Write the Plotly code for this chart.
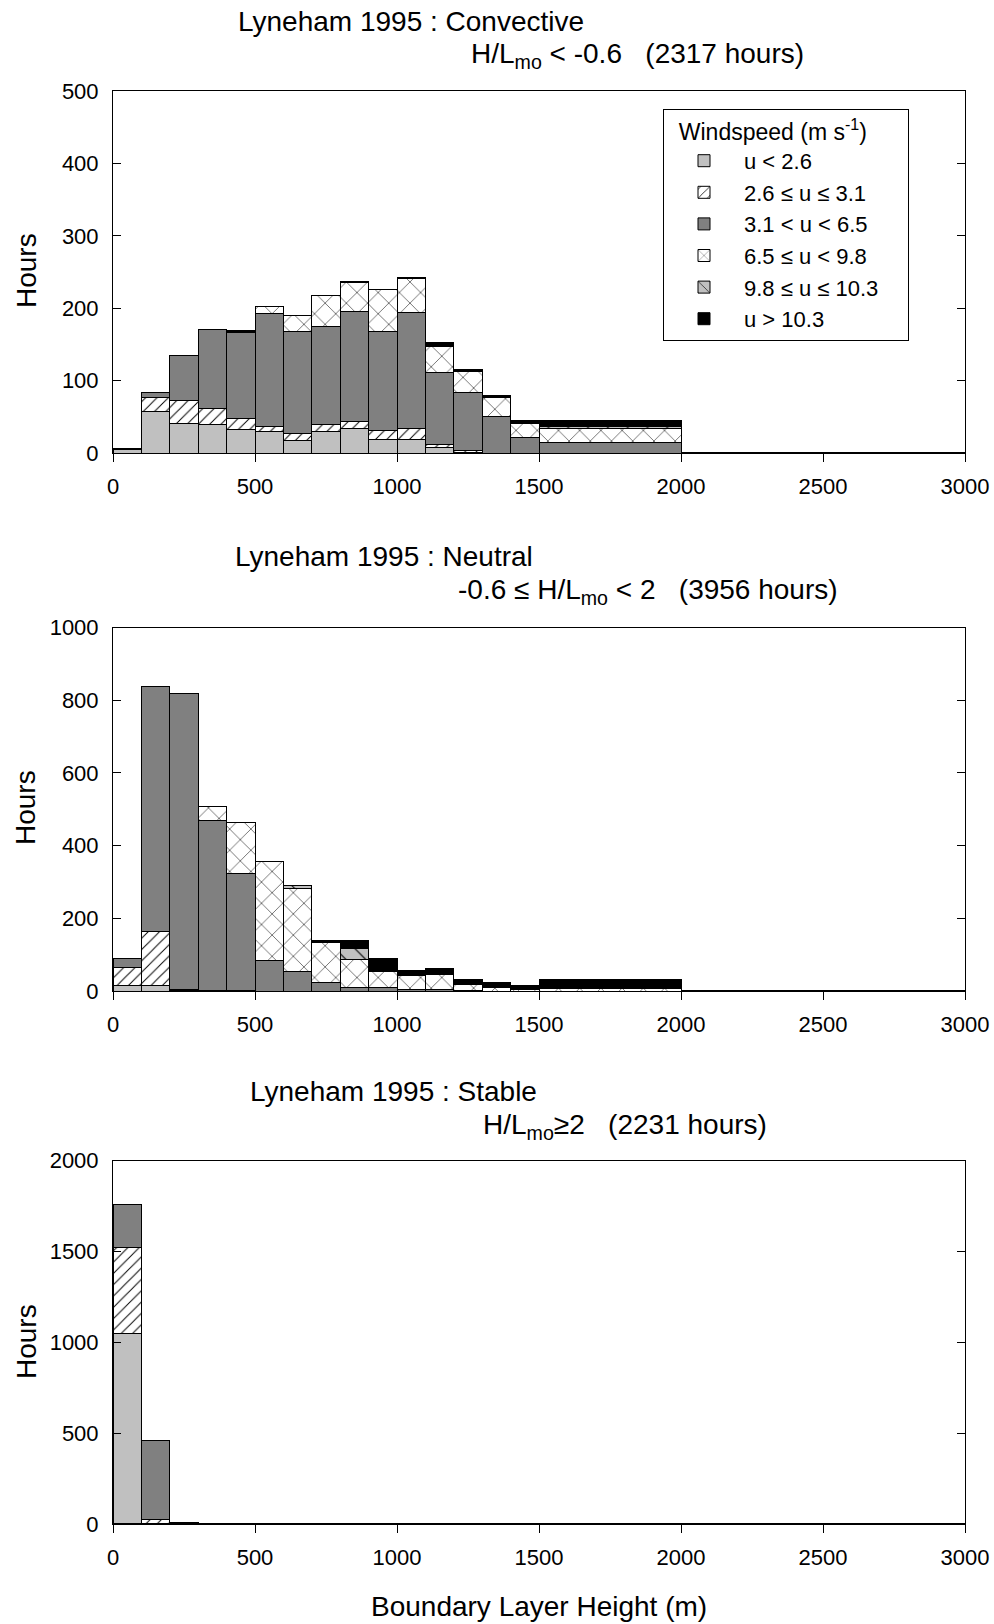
import plotly.graph_objects as go

# ---------------- data ----------------
bin_edges = [0, 100, 200, 300, 400, 500, 600, 700, 800, 900, 1000, 1100, 1200,
             1300, 1400, 1500, 2000, 3000]

class_names = ["u &lt; 2.6", "2.6 ≤ u ≤ 3.1", "3.1 &lt; u &lt; 6.5",
               "6.5 ≤ u &lt; 9.8", "9.8 ≤ u ≤ 10.3", "u &gt; 10.3"]

# Convective  (H/Lmo < -0.6)
conv_u1 = [5, 57, 41, 39, 32, 30, 17, 30, 34, 18, 19, 8, 1, 0, 0, 0, 0]
conv_u2 = [0, 20, 31, 23, 16, 7, 10, 10, 10, 13, 15, 4, 2, 0, 0, 0, 0]
conv_u3 = [1, 6, 62, 108, 119, 156, 141, 135, 152, 137, 160, 99, 80, 51, 21, 15, 1]
conv_u4 = [0, 0, 0, 0, 1, 9, 22, 43, 39, 58, 47, 36, 29, 25, 20, 19, 0]
conv_u5 = [0, 0, 0, 0, 0, 0, 0, 0, 0, 0, 0, 1, 0, 0, 1, 2, 0]
conv_u6 = [0, 0, 0, 0, 1, 0, 0, 0, 2, 0, 2, 5, 3, 3, 3, 9, 0]

# Neutral  (-0.6 <= H/Lmo < 2)
neut_u1 = [15, 15, 1, 1, 0, 0, 0, 0, 0, 0, 0, 0, 0, 0, 0, 0, 0]
neut_u2 = [50, 150, 3, 1, 1, 0, 0, 0, 0, 0, 0, 0, 0, 0, 0, 0, 0]
neut_u3 = [24, 672, 814, 466, 322, 85, 54, 23, 9, 9, 5, 5, 1, 0, 0, 0, 1]
neut_u4 = [0, 0, 0, 40, 141, 270, 228, 110, 78, 46, 38, 41, 17, 11, 3, 7, 1]
neut_u5 = [0, 0, 0, 0, 0, 0, 7, 3, 29, 1, 2, 2, 2, 1, 1, 2, 0]
neut_u6 = [0, 0, 0, 0, 0, 0, 0, 2, 23, 33, 12, 15, 11, 12, 11, 24, 0]

# Stable  (H/Lmo >= 2)
stab_u1 = [1051, 1, 0, 0, 0, 0, 0, 0, 0, 0, 0, 0, 0, 0, 0, 0, 0]
stab_u2 = [469, 22, 0, 0, 0, 0, 0, 0, 0, 0, 0, 0, 0, 0, 0, 0, 0]
stab_u3 = [241, 437, 6, 0, 0, 0, 0, 0, 0, 0, 0, 0, 0, 0, 0, 0, 0]
stab_u4 = [0] * 17
stab_u5 = [0] * 17
stab_u6 = [0] * 17

x_ticks = [0, 500, 1000, 1500, 2000, 2500, 3000]
y_ticks_conv = [0, 100, 200, 300, 400, 500]
y_ticks_neut = [0, 200, 400, 600, 800, 1000]
y_ticks_stab = [0, 500, 1000, 1500, 2000]

# ---------------- styling ----------------
FONT = "Liberation Sans, Arial, sans-serif"
W, H = 994, 1624
LIGHT = "#c0c0c0"
DARK = "#808080"

styles = [
    dict(color=LIGHT),
    dict(color="white", pattern=dict(shape="/", fgcolor="black", bgcolor="white",
                                     size=8, solidity=0.12, fillmode="replace")),
    dict(color=DARK),
    dict(color="white", pattern=dict(shape="x", fgcolor="black", bgcolor="white",
                                     size=15, solidity=0.07, fillmode="replace")),
    dict(color=LIGHT, pattern=dict(shape="\\", fgcolor="black", bgcolor=LIGHT,
                                   size=14, solidity=0.08, fillmode="replace")),
    dict(color="black"),
]

centers = [(a + b) / 2 for a, b in zip(bin_edges[:-1], bin_edges[1:])]
widths = [b - a for a, b in zip(bin_edges[:-1], bin_edges[1:])]

panels = [
    ([conv_u1, conv_u2, conv_u3, conv_u4, conv_u5, conv_u6], "x", "y", True),
    ([neut_u1, neut_u2, neut_u3, neut_u4, neut_u5, neut_u6], "x2", "y2", False),
    ([stab_u1, stab_u2, stab_u3, stab_u4, stab_u5, stab_u6], "x3", "y3", False),
]

fig = go.Figure()
for series, xa, ya, show in panels:
    for i, vals in enumerate(series):
        st = styles[i]
        marker = dict(color=st["color"], line=dict(color="black", width=1))
        if "pattern" in st:
            marker["pattern"] = st["pattern"]
        fig.add_trace(go.Bar(
            x=centers, y=vals, width=widths, xaxis=xa, yaxis=ya,
            marker=marker, name=class_names[i], legendgroup=class_names[i],
            showlegend=show,
        ))

def px_x(p):
    return p / W

def px_y(p):
    return 1 - p / H

x_dom = [px_x(113), px_x(965)]
dom_conv = [px_y(453), px_y(91)]
dom_neut = [px_y(991), px_y(627.5)]
dom_stab = [px_y(1524), px_y(1160.7)]

tickfont = dict(family=FONT, size=22, color="black")

def xaxis(anchor):
    return dict(domain=x_dom, anchor=anchor, range=[0, 3000], tickvals=x_ticks,
                ticks="outside", ticklen=8, tickcolor="black", showline=True,
                linecolor="black", linewidth=1, mirror=True, showgrid=False,
                zeroline=False, tickfont=tickfont, ticklabelstandoff=6,
                automargin=False)

def yaxis(anchor, dom, rng, tv):
    return dict(domain=dom, anchor=anchor, range=rng, tickvals=tv,
                ticks="inside", ticklen=8, tickcolor="black", showline=True,
                linecolor="black", linewidth=1, mirror="ticks", showgrid=False,
                zeroline=False, tickfont=tickfont, ticklabelstandoff=9,
                automargin=False)

ann_font = dict(family=FONT, size=28, color="black")
annotations = []

def text_ann(text, x, y, xanchor="left", angle=0):
    annotations.append(dict(text=text, x=px_x(x), y=px_y(y), xref="paper",
                            yref="paper", xanchor=xanchor, yanchor="middle",
                            showarrow=False, font=ann_font, textangle=angle))

NB = "\u00a0"
text_ann("Lyneham 1995 : Convective", 236, 22)
text_ann("H/L<sub>mo</sub> &lt; -0.6" + NB * 3 + "(2317 hours)", 469, 56)
text_ann("Lyneham 1995 : Neutral", 233, 556)
text_ann("-0.6 ≤ H/L<sub>mo</sub> &lt; 2" + NB * 3 + "(3956 hours)", 456, 591)
text_ann("Lyneham 1995 : Stable", 248, 1091)
text_ann("H/L<sub>mo</sub>≥2" + NB * 3 + "(2231 hours)", 481, 1126)
text_ann("Hours", 26, 271, xanchor="center", angle=-90)
text_ann("Hours", 26, 808, xanchor="center", angle=-90)
text_ann("Hours", 26, 1342, xanchor="center", angle=-90)
text_ann("Boundary Layer Height (m)", 539, 1606, xanchor="center")

fig.update_layout(
    width=W, height=H, margin=dict(l=0, r=0, t=0, b=0, autoexpand=False),
    paper_bgcolor="white", plot_bgcolor="white",
    barmode="stack", showlegend=True,
    font=dict(family=FONT, color="black"),
    xaxis=xaxis("y"), yaxis=yaxis("x", dom_conv, [0, 500], y_ticks_conv),
    xaxis2=xaxis("y2"), yaxis2=yaxis("x2", dom_neut, [0, 1000], y_ticks_neut),
    xaxis3=xaxis("y3"), yaxis3=yaxis("x3", dom_stab, [0, 2000], y_ticks_stab),
    legend=dict(x=px_x(663), y=px_y(109), xanchor="left", yanchor="top",
                bgcolor="white", bordercolor="black", borderwidth=1,
                font=dict(family=FONT, size=22, color="black"),
                title=dict(text=NB * 2 + "Windspeed (m s<sup>-1</sup>)" + NB * 6,
                           font=dict(family=FONT, size=23, color="black")),
                tracegroupgap=0, itemwidth=70, traceorder="normal"),
    annotations=annotations,
)

fig.write_html(
    "out.html",
    config={"displayModeBar": False},
    post_script="document.body.style.margin='0px';"
                "document.body.style.overflow='hidden';",
)
